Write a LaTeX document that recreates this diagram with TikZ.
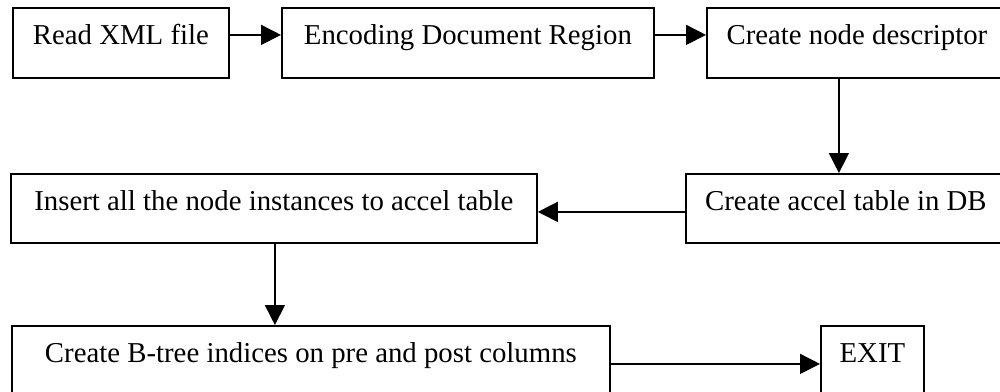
\documentclass[tikz,border=0pt]{standalone}
\usepackage{fontspec}
\setmainfont{Liberation Serif}
\usetikzlibrary{arrows.meta}
\begin{document}
\begin{tikzpicture}[x=1pt,y=-1pt,
  stepbox/.style={draw, line width=1.8pt, anchor=north west, inner sep=0pt,
    text height=36.5pt, text depth=33.5pt, align=center,
    font=\fontsize{28.8pt}{32pt}\selectfont},
  flow/.style={line width=1.6pt, -{Triangle[length=20pt,width=20pt]}}]
\useasboundingbox (0,0) rectangle (1000,391);
\node[stepbox, minimum width=216pt] (b1) at (12,7) {Read XML file};
\node[stepbox, minimum width=372pt] (b2) at (281,7) {Encoding Document Region};
\node[stepbox, minimum width=300pt] (b3) at (706,7) {Create node descriptor};
\node[stepbox, minimum width=320pt, text depth=32.5pt] (b5) at (685,173) {Create accel table in DB};
\node[stepbox, minimum width=526pt, text depth=32.5pt] (b4) at (10,173) {Insert all the node instances to accel table};
\node[stepbox, minimum width=598pt] (b6) at (11,325) {Create B-tree indices on pre and post columns};
\node[stepbox, minimum width=103pt] (b7) at (820,325) {EXIT};
\draw[flow] ([yshift=8pt]b1.east) -- ([yshift=8pt]b2.west);
\draw[flow] ([yshift=8pt]b2.east) -- ([yshift=8pt]b3.west);
\draw[flow] ([xshift=-18pt]b3.south) -- ([xshift=-18pt]b3.south |- b5.north);
\draw[flow] ([yshift=-3.5pt]b5.west) -- ([yshift=-3.5pt]b4.east);
\draw[flow] ([xshift=1pt]b4.south) -- ([xshift=1pt]b4.south |- b6.north);
\draw[flow] ([yshift=-3pt]b6.east) -- ([yshift=-3pt]b7.west);
\end{tikzpicture}
\end{document}
